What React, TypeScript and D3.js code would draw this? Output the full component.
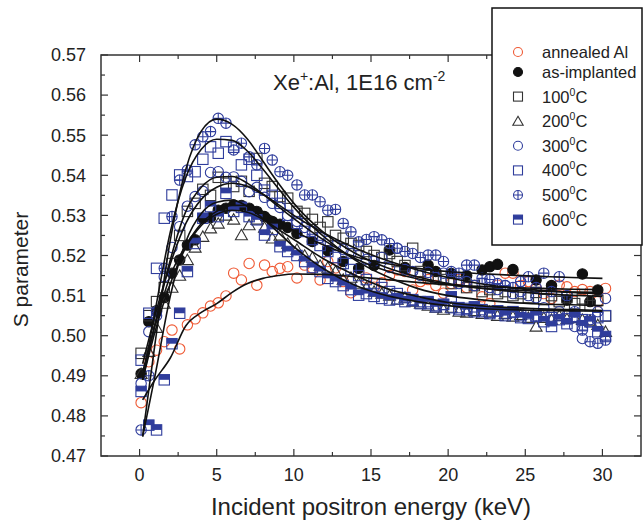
import React from 'react';
import * as d3 from 'd3';

// Incident positron energy (keV) of every measured point
const energies = [0.1,0.6,1.1,1.6,2.1,2.6,3.1,3.6,4.1,4.6,5.1,5.6,6.1,6.6,7.1,7.6,8.1,8.6,9.1,9.6,
  10.2,10.7,11.2,11.7,12.2,12.7,13.2,13.7,14.2,14.7,15.2,15.7,16.2,16.7,17.2,17.7,18.2,18.7,19.2,19.7,
  20.2,20.7,21.2,21.7,22.2,22.7,23.2,23.7,24.2,24.7,25.2,25.7,26.2,26.7,27.2,27.7,28.2,28.7,29.2,29.7,30.2];

// as-implanted points that can be seen (many are hidden under other series)
const asImplantedEnergies = [0.1,0.6,1.1,1.6,2.1,2.6,3.1,3.6,4.1,4.6,5.1,5.6,6.1,6.6,7.1,7.6,8.1,8.6,9.1,9.6,
  10.2,11.2,12.2,13.2,14.2,15.2,16.2,17.2,18.7,19.2,20.2,21.2,22.2,22.7,23.2,24.2,25.7,26.7,27.7,28.7,29.2,29.7];

const annealedAl = [0.4833,0.4935,0.4964,0.4985,0.5014,0.4967,0.5027,0.5042,0.5057,0.5074,
  0.5082,0.5099,0.5156,0.5139,0.5180,0.5126,0.5176,0.5160,0.5168,0.5172,
  0.5144,0.5176,0.5169,0.5139,0.5185,0.5169,0.5135,0.5107,0.5160,0.5144,
  0.5121,0.5132,0.5150,0.5164,0.5160,0.5114,0.5135,0.5140,0.5125,0.5106,
  0.5130,0.5140,0.5120,0.5125,0.5097,0.5080,0.5126,0.5156,0.5156,0.5125,
  0.5135,0.5118,0.5105,0.5093,0.5126,0.5122,0.5110,0.5115,0.5110,0.5085,0.5118];

const asImplanted = [0.4905,0.5035,0.5062,0.5095,0.5156,0.5189,0.5226,0.5239,0.5293,0.5295,
  0.5313,0.5318,0.5326,0.5325,0.5318,0.5310,0.5297,0.5285,0.5278,0.5270,
  0.5255,0.5235,0.5212,0.5185,0.5168,0.5175,0.5214,0.5170,0.5176,0.5160,
  0.5155,0.5150,0.5164,0.5172,0.5178,0.5165,0.5139,0.5125,0.5089,0.5154,0.5085,0.5114];

const t100 = [0.4956,0.5050,0.5085,0.5120,0.5180,0.5250,0.5310,0.5330,0.5365,0.5350,
  0.5395,0.5380,0.5372,0.5385,0.5360,0.5442,0.5380,0.5372,0.5347,0.5343,
  0.5310,0.5305,0.5290,0.5270,0.5284,0.5250,0.5243,0.5230,0.5225,0.5210,
  0.5200,0.5195,0.5205,0.5185,0.5175,0.5218,0.5160,0.5150,0.5145,0.5140,
  0.5130,0.5135,0.5120,0.5125,0.5110,0.5115,0.5105,0.5110,0.5100,0.5105,
  0.5095,0.5108,0.5090,0.5100,0.5085,0.5095,0.5080,0.5092,0.5075,0.5088,0.5049];

const t200 = [0.4905,0.4960,0.5020,0.5080,0.5120,0.5150,0.5189,0.5220,0.5247,0.5268,
  0.5280,0.5300,0.5290,0.5251,0.5276,0.5290,0.5270,0.5243,0.5250,0.5230,
  0.5215,0.5200,0.5195,0.5175,0.5170,0.5160,0.5140,0.5145,0.5130,0.5120,
  0.5110,0.5105,0.5100,0.5090,0.5095,0.5085,0.5080,0.5075,0.5070,0.5065,
  0.5070,0.5060,0.5058,0.5062,0.5055,0.5060,0.5050,0.5055,0.5048,0.5052,
  0.5045,0.5023,0.5045,0.5040,0.5050,0.5042,0.5045,0.5040,0.5038,0.5027,0.5010];

const t300 = [0.4881,0.5010,0.5060,0.5147,0.5220,0.5272,0.5323,0.5347,0.5360,0.5407,
  0.5409,0.5395,0.5396,0.5385,0.5359,0.5370,0.5345,0.5330,0.5320,0.5300,
  0.5285,0.5270,0.5260,0.5245,0.5235,0.5225,0.5215,0.5205,0.5200,0.5190,
  0.5185,0.5195,0.5170,0.5218,0.5165,0.5160,0.5150,0.5158,0.5145,0.5156,
  0.5140,0.5130,0.5135,0.5125,0.5130,0.5120,0.5115,0.5125,0.5105,0.5110,
  0.5100,0.5095,0.5070,0.5039,0.5060,0.5050,0.5023,0.4993,0.5040,0.5060,0.5093];

const t400 = [0.4939,0.5056,0.5168,0.5293,0.5351,0.5401,0.5397,0.5409,0.5440,0.5471,
  0.5455,0.5484,0.5470,0.5426,0.5440,0.5400,0.5363,0.5350,0.5330,0.5300,
  0.5280,0.5260,0.5240,0.5225,0.5210,0.5195,0.5180,0.5165,0.5150,0.5140,
  0.5130,0.5120,0.5110,0.5105,0.5095,0.5090,0.5085,0.5080,0.5075,0.5078,
  0.5070,0.5065,0.5068,0.5060,0.5065,0.5058,0.5062,0.5055,0.5060,0.5050,
  0.5055,0.5048,0.5052,0.5045,0.5050,0.5042,0.5048,0.5040,0.5035,0.5045,0.5050];

const t500 = [0.4765,0.4900,0.5050,0.5168,0.5297,0.5388,0.5413,0.5476,0.5496,0.5509,
  0.5542,0.5530,0.5463,0.5480,0.5446,0.5426,0.5467,0.5438,0.5409,0.5400,
  0.5376,0.5351,0.5351,0.5334,0.5313,0.5315,0.5280,0.5259,0.5234,0.5240,
  0.5247,0.5239,0.5230,0.5218,0.5210,0.5205,0.5195,0.5201,0.5201,0.5185,
  0.5160,0.5156,0.5176,0.5176,0.5143,0.5140,0.5130,0.5125,0.5120,0.5135,
  0.5147,0.5120,0.5156,0.5110,0.5147,0.5100,0.5060,0.5014,0.4985,0.4981,0.4989];

const t600 = [0.4861,0.4777,0.4765,0.4890,0.4980,0.5056,0.5160,0.5230,0.5293,0.5322,
  0.5297,0.5355,0.5310,0.5320,0.5297,0.5289,0.5251,0.5265,0.5222,0.5210,
  0.5200,0.5185,0.5170,0.5160,0.5143,0.5135,0.5125,0.5115,0.5101,0.5105,
  0.5098,0.5093,0.5089,0.5092,0.5085,0.5088,0.5080,0.5085,0.5072,0.5078,
  0.5097,0.5070,0.5065,0.5072,0.5060,0.5055,0.5062,0.5050,0.5058,0.5045,
  0.5043,0.5050,0.5035,0.5023,0.5040,0.5030,0.5045,0.5025,0.5035,0.5010,0.4998];

// Fitted curves, sampled at these energies
const fitEnergies = [0.2,1,2,3,4,5,6,7,8,9,10,12,14,16,18,20,22,24,26,28,30];
const fitAnnealed = [0.4840,0.4890,0.4945,0.5025,0.5058,0.5080,0.5108,0.5130,0.5143,0.5150,0.5154,0.5153,0.5147,0.5140,0.5133,0.5127,0.5123,0.5120,0.5118,0.5116,0.5115];
const fitAsImpl = [0.4910,0.5025,0.5150,0.5225,0.5280,0.5310,0.5325,0.5325,0.5310,0.5287,0.5262,0.5225,0.5197,0.5180,0.5168,0.5160,0.5155,0.5151,0.5148,0.5145,0.5143];
const fit100 = [0.4930,0.5050,0.5180,0.5280,0.5340,0.5370,0.5380,0.5372,0.5352,0.5327,0.5300,0.5255,0.5218,0.5188,0.5164,0.5145,0.5130,0.5120,0.5113,0.5108,0.5105];
const fit200 = [0.4890,0.5010,0.5130,0.5220,0.5275,0.5303,0.5313,0.5308,0.5290,0.5265,0.5240,0.5190,0.5150,0.5118,0.5098,0.5083,0.5075,0.5070,0.5067,0.5065,0.5063];
const fit300 = [0.4890,0.5030,0.5190,0.5310,0.5370,0.5395,0.5397,0.5380,0.5353,0.5322,0.5292,0.5237,0.5192,0.5162,0.5142,0.5128,0.5119,0.5114,0.5111,0.5109,0.5108];
const fit400 = [0.4890,0.5060,0.5260,0.5395,0.5465,0.5490,0.5487,0.5460,0.5415,0.5367,0.5320,0.5245,0.5188,0.5148,0.5118,0.5100,0.5090,0.5083,0.5079,0.5077,0.5075];
const fit500 = [0.4750,0.4980,0.5240,0.5415,0.5510,0.5540,0.5527,0.5490,0.5435,0.5380,0.5330,0.5255,0.5205,0.5170,0.5147,0.5130,0.5119,0.5111,0.5105,0.5101,0.5098];
const fit600 = [0.4748,0.4900,0.5100,0.5235,0.5305,0.5333,0.5338,0.5322,0.5292,0.5257,0.5222,0.5165,0.5125,0.5100,0.5085,0.5075,0.5068,0.5065,0.5063,0.5062,0.5061];

const legendLabels = ['annealed Al', 'as-implanted', '100', '200', '300', '400', '500', '600'];
const xTickValues = [0, 5, 10, 15, 20, 25, 30];
const yTickValues = [0.47, 0.48, 0.49, 0.50, 0.51, 0.52, 0.53, 0.54, 0.55, 0.56, 0.57];

const RED = '#ef5a35';
const BLUE = '#2f3d9c';
const BLACK = '#111111';
const GRAY = '#333333';

const series = [
  { label: legendLabels[0], xs: energies, values: annealedAl, fit: fitAnnealed, marker: 'o', color: RED },
  { label: legendLabels[1], xs: asImplantedEnergies, values: asImplanted, fit: fitAsImpl, marker: 'dot', color: BLACK },
  { label: legendLabels[2], xs: energies, values: t100, fit: fit100, marker: 'sq', color: GRAY },
  { label: legendLabels[3], xs: energies, values: t200, fit: fit200, marker: 'tri', color: GRAY },
  { label: legendLabels[4], xs: energies, values: t300, fit: fit300, marker: 'o', color: BLUE },
  { label: legendLabels[5], xs: energies, values: t400, fit: fit400, marker: 'sq', color: BLUE },
  { label: legendLabels[6], xs: energies, values: t500, fit: fit500, marker: 'oplus', color: BLUE },
  { label: legendLabels[7], xs: energies, values: t600, fit: fit600, marker: 'sqhalf', color: BLUE },
];

const W = 644, H = 523;
const L = 101, R = 641, T = 55, B = 456;
const x = d3.scaleLinear().domain([-2.5, 32.5]).range([L, R]);
const y = d3.scaleLinear().domain([0.47, 0.57]).range([B, T]);
const FONT = 'Liberation Sans, Arial, Helvetica, sans-serif';

function Marker({ type, color, cx, cy, s }: { type: string; color: string; cx: number; cy: number; s: number }) {
  const sw = 1.1;
  switch (type) {
    case 'o':
      return <circle cx={cx} cy={cy} r={s} fill="none" stroke={color} strokeWidth={sw} />;
    case 'dot':
      return <circle cx={cx} cy={cy} r={s} fill={color} stroke={color} strokeWidth={sw} />;
    case 'sq':
      return <rect x={cx - s} y={cy - s} width={2 * s} height={2 * s} fill="none" stroke={color} strokeWidth={sw} />;
    case 'tri':
      return <path d={`M${cx},${cy - s * 1.1}L${cx + s * 1.15},${cy + s * 0.9}L${cx - s * 1.15},${cy + s * 0.9}Z`} fill="none" stroke={color} strokeWidth={sw} />;
    case 'oplus':
      return (
        <g>
          <circle cx={cx} cy={cy} r={s} fill="none" stroke={color} strokeWidth={sw} />
          <path d={`M${cx - s},${cy}H${cx + s}M${cx},${cy - s}V${cy + s}`} stroke={color} strokeWidth={sw} />
        </g>
      );
    case 'sqhalf':
      return (
        <g>
          <rect x={cx - s} y={cy - s} width={2 * s} height={s} fill={color} />
          <rect x={cx - s} y={cy - s} width={2 * s} height={2 * s} fill="none" stroke={color} strokeWidth={sw} />
        </g>
      );
    default:
      return null;
  }
}

export default function App() {
  const line = (vals: number[]) =>
    d3.line<number>()
      .x((_, i) => x(fitEnergies[i]))
      .y((d) => y(d))
      .curve(d3.curveMonotoneX)(vals) || '';

  const xMinor = d3.range(2.5, 30, 5);
  const yMinor = d3.range(0, 10).map((i) => 0.475 + i * 0.01);
  const fmt = d3.format('.2f');
  const maj = 7, mnr = 4;
  const legendY = (i: number) => (i === 0 ? 52 : 72 + (i - 1) * 24.6);

  return (
    <svg width={W} height={H} style={{ position: 'absolute', left: 0, top: 0, background: '#fff' }} fontFamily={FONT}>
      <rect x={0} y={0} width={W} height={H} fill="#fff" />
      {series.map((s, si) => (
        <g key={si}>
          {s.values.map((v, i) => (
            <Marker key={i} type={s.marker} color={s.color} cx={x(s.xs[i])} cy={y(v)} s={5.2} />
          ))}
        </g>
      ))}
      {series.map((s, si) => (
        <path key={si} d={line(s.fit)} fill="none" stroke="#111" strokeWidth={1.6} />
      ))}
      <rect x={L} y={T} width={R - L} height={B - T} fill="none" stroke="#333" strokeWidth={1.5} />
      {xTickValues.map((v) => (
        <g key={'xt' + v}>
          <line x1={x(v)} x2={x(v)} y1={B} y2={B - maj} stroke="#333" strokeWidth={1.2} />
          <line x1={x(v)} x2={x(v)} y1={T} y2={T + maj} stroke="#333" strokeWidth={1.2} />
          <text x={x(v)} y={481} textAnchor="middle" fontSize={18} fill="#222">{v}</text>
        </g>
      ))}
      {xMinor.map((v) => (
        <g key={'xm' + v}>
          <line x1={x(v)} x2={x(v)} y1={B} y2={B - mnr} stroke="#333" strokeWidth={1.2} />
          <line x1={x(v)} x2={x(v)} y1={T} y2={T + mnr} stroke="#333" strokeWidth={1.2} />
        </g>
      ))}
      {yTickValues.map((v) => (
        <g key={'yt' + v}>
          <line x1={L} x2={L + maj} y1={y(v)} y2={y(v)} stroke="#333" strokeWidth={1.2} />
          <line x1={R} x2={R - maj} y1={y(v)} y2={y(v)} stroke="#333" strokeWidth={1.2} />
          <text x={86} y={y(v)} dy="0.35em" textAnchor="end" fontSize={18} fill="#222">{fmt(v)}</text>
        </g>
      ))}
      {yMinor.map((v) => (
        <g key={'ym' + v}>
          <line x1={L} x2={L + mnr} y1={y(v)} y2={y(v)} stroke="#333" strokeWidth={1.2} />
          <line x1={R} x2={R - mnr} y1={y(v)} y2={y(v)} stroke="#333" strokeWidth={1.2} />
        </g>
      ))}
      <text x={371} y={515} textAnchor="middle" fontSize={24} fill="#222">Incident positron energy (keV)</text>
      <text transform={`translate(28,${(T + B) / 2 + 14}) rotate(-90)`} textAnchor="middle" fontSize={21} fill="#222">S parameter</text>
      <text x={273} y={90} fontSize={22} fill="#222">
        Xe<tspan dy={-9} fontSize={14}>+</tspan><tspan dy={9}>:Al, 1E16 cm</tspan><tspan dy={-9} fontSize={14}>-2</tspan>
      </text>
      <rect x={492} y={8} width={150} height={237} fill="#fff" stroke="#111" strokeWidth={1.5} />
      {series.map((s, i) => {
        const ly = legendY(i);
        return (
          <g key={'lg' + i}>
            <Marker type={s.marker} color={s.color} cx={518} cy={ly} s={4.5} />
            <text x={542} y={ly} dy="0.36em" fontSize={16.5} fill="#222">
              {i < 2 ? s.label : (
                <>
                  {s.label}<tspan dy={-7} fontSize={10.5}>0</tspan><tspan dy={7}>C</tspan>
                </>
              )}
            </text>
          </g>
        );
      })}
    </svg>
  );
}
